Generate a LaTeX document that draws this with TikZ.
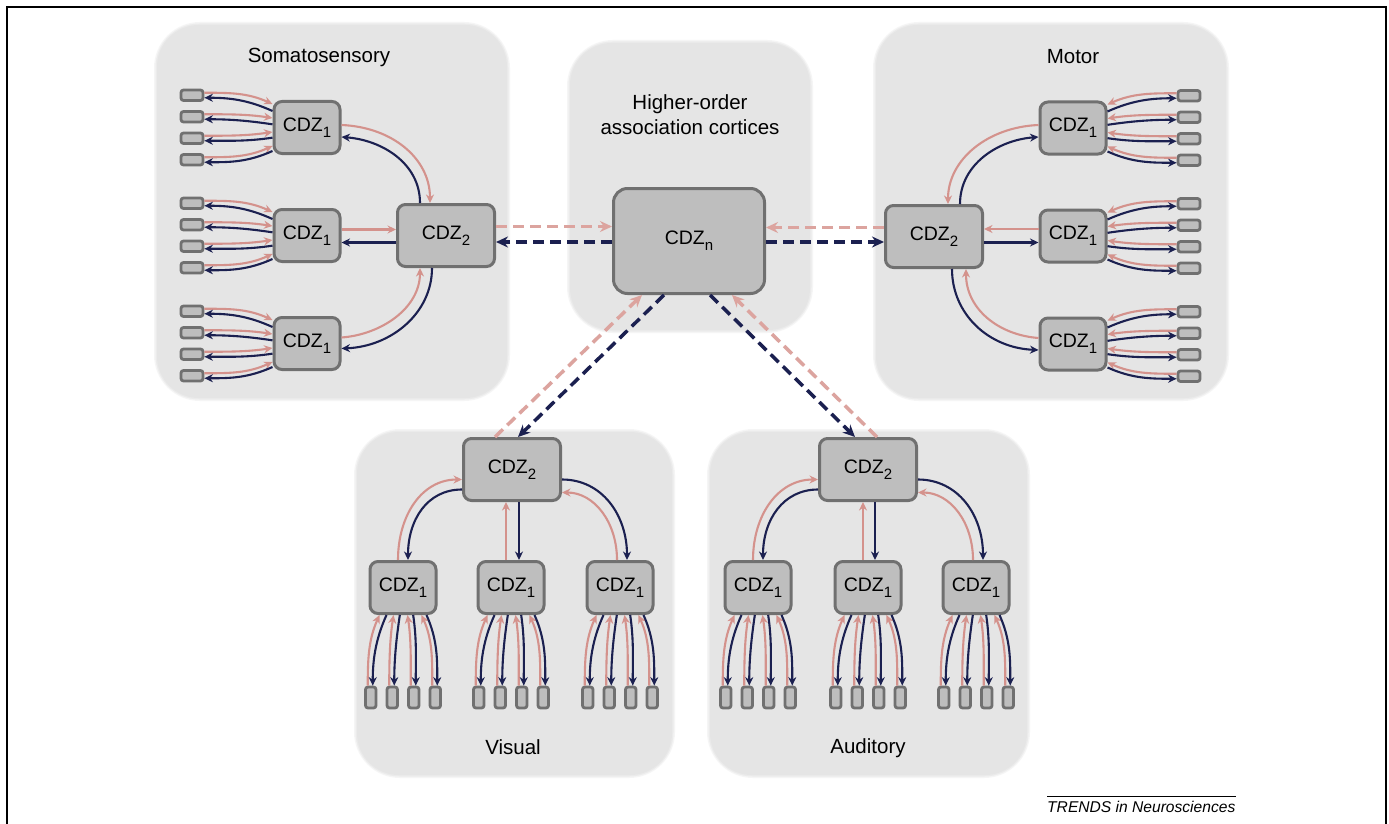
\documentclass[tikz,border=0pt]{standalone}
\usepackage{fontspec}
\setmainfont{Liberation Sans}
\usetikzlibrary{arrows.meta,calc}

\definecolor{panelgray}{RGB}{229,229,229}
\definecolor{boxfill}{RGB}{190,190,190}
\definecolor{boxline}{RGB}{112,112,112}
\definecolor{fwd}{RGB}{212,146,140}
\definecolor{fwdlight}{RGB}{220,164,159}
\definecolor{back}{RGB}{27,32,80}

\newcommand\cdzsub[1]{\raisebox{-6pt}{\fontsize{15}{15}\selectfont #1}}

\tikzset{
  cdz/.style={draw=boxline, fill=boxfill, line width=3pt, rounded corners=8pt,
    minimum width=66pt, minimum height=52pt, inner sep=0pt,
    font=\fontsize{19.5}{20}\selectfont},
  cdztwo/.style={cdz, minimum width=97pt, minimum height=62pt},
  cdzn/.style={cdz, minimum width=151pt, minimum height=105pt, rounded corners=14pt},
  leafh/.style={draw=boxline, fill=boxfill, line width=2.8pt, rounded corners=2.5pt,
    minimum width=22pt, minimum height=10.5pt, inner sep=0pt},
  leafv/.style={leafh, minimum width=10.5pt, minimum height=21pt},
  up/.style={draw=fwd, line width=2.1pt, -{Stealth[length=8.5pt,width=8pt]}},
  down/.style={draw=back, line width=2.1pt, -{Stealth[length=8.5pt,width=8pt]}},
  updash/.style={draw=fwdlight, line width=3.5pt, dash pattern=on 11pt off 6pt,
    -{Stealth[length=12pt,width=11pt]}},
  downdash/.style={draw=back, line width=3.5pt, dash pattern=on 11pt off 6pt,
    -{Stealth[length=12pt,width=11pt]}},
  region/.style={font=\fontsize{20.5}{25}\selectfont, align=center},
}

% soft-edged grey region
\newcommand\panel[4]{%
  \fill[panelgray, opacity=0.35, rounded corners=46pt] ({#1-3},{#2-3}) rectangle ({#3+3},{#4+3});
  \fill[panelgray, opacity=0.6, rounded corners=44pt] ({#1-1.5},{#2-1.5}) rectangle ({#3+1.5},{#4+1.5});
  \fill[panelgray, rounded corners=42pt] (#1,#2) rectangle (#3,#4);}

% four input units to the left of a CDZ1
\newcommand\fanleft[1]{%
  \foreach \i/\d in {1/-32.25,2/-10.75,3/10.75,4/32.25}{%
    \node[leafh] (#1b\i) at ($(#1)+(-115,\d)$) {};
    \draw[up] ($(#1b\i.east)+(0,-2.5)$) .. controls +(25,0) and +(-25,{0.35*\d}) .. ($(#1.west)+(0,{0.65*\d-2.5})$);
    \draw[down] ($(#1.west)+(0,{0.62*\d+3.5})$) .. controls +(-25,{0.35*\d}) and +(25,0) .. ($(#1b\i.east)+(0,2.5)$);
  }}
% four output units to the right of a CDZ1
\newcommand\fanright[1]{%
  \foreach \i/\d in {1/-32.25,2/-10.75,3/10.75,4/32.25}{%
    \node[leafh] (#1b\i) at ($(#1)+(116,\d)$) {};
    \draw[up] ($(#1b\i.west)+(0,-2.5)$) .. controls +(-25,0) and +(25,{0.35*\d}) .. ($(#1.east)+(0,{0.65*\d-2.5})$);
    \draw[down] ($(#1.east)+(0,{0.62*\d+3.5})$) .. controls +(25,{0.35*\d}) and +(-25,0) .. ($(#1b\i.west)+(0,2.5)$);
  }}
% four units below a CDZ1
\newcommand\fandown[1]{%
  \foreach \i/\d in {1/-32.25,2/-10.75,3/10.75,4/32.25}{%
    \node[leafv] (#1b\i) at ($(#1)+(\d,110)$) {};
    \draw[up] ($(#1b\i.north)+(-3,0)$) .. controls +(0,-25) and +({0.35*\d},25) .. ($(#1.south)+({0.65*\d-2.5},0)$);
    \draw[down] ($(#1.south)+({0.62*\d+3.5},0)$) .. controls +({0.35*\d},25) and +(0,-25) .. ($(#1b\i.north)+(2,0)$);
  }}

\begin{document}
\begin{tikzpicture}[x=1pt,y=-1pt]
\useasboundingbox (0,0) rectangle (1389,824);
\fill[white] (0,0) rectangle (1389,824);
\draw[line width=2pt] (6.5,824) -- (6.5,7.5) -- (1386,7.5) -- (1386,824);

% regions
\panel{157}{25}{507}{398}
\panel{570}{43}{810}{330}
\panel{876}{25}{1226}{398}
\panel{357}{432}{672}{775}
\panel{710}{432}{1027}{775}

\node[region] (lsoma) at (319,57) {Somatosensory};
\node[region] (lmotor) at (1073,57) {Motor};
\node[region] (lhigh) at (690,115) {Higher-order\\association cortices};
\node[region] (lvis) at (513,747) {Visual};
\node[region] (laud) at (868,748) {Auditory};

% convergence-divergence zones
\node[cdzn] (cn) at (689,241) {CDZ\cdzsub{n}};

\node[cdz] (sa) at (307,127.5) {CDZ\cdzsub{1}};
\node[cdz] (sb) at (307,235.5) {CDZ\cdzsub{1}};
\node[cdz] (sc) at (307,343.5) {CDZ\cdzsub{1}};
\node[cdztwo] (sz) at (446,235.5) {CDZ\cdzsub{2}};

\node[cdz] (ma) at (1073,128) {CDZ\cdzsub{1}};
\node[cdz] (mb) at (1073,236) {CDZ\cdzsub{1}};
\node[cdz] (mc) at (1073,344) {CDZ\cdzsub{1}};
\node[cdztwo] (mz) at (934,236.5) {CDZ\cdzsub{2}};

\node[cdztwo] (vz) at (512,469.5) {CDZ\cdzsub{2}};
\node[cdz] (va) at (403,587.5) {CDZ\cdzsub{1}};
\node[cdz] (vb) at (511,587.5) {CDZ\cdzsub{1}};
\node[cdz] (vc) at (620,587.5) {CDZ\cdzsub{1}};

\node[cdztwo] (az) at (868,469.5) {CDZ\cdzsub{2}};
\node[cdz] (aa) at (758,587.5) {CDZ\cdzsub{1}};
\node[cdz] (ab) at (868,587.5) {CDZ\cdzsub{1}};
\node[cdz] (ac) at (976,587.5) {CDZ\cdzsub{1}};

% input / output units
\fanleft{sa}\fanleft{sb}\fanleft{sc}
\fanright{ma}\fanright{mb}\fanright{mc}
\fandown{va}\fandown{vb}\fandown{vc}
\fandown{aa}\fandown{ab}\fandown{ac}

% somatosensory CDZ1 <-> CDZ2
\draw[up] ($(sa.east)+(0,-2.5)$) .. controls +(50,2) and +(0,-45) .. ($(sz.north)+(-16,0)$);
\draw[down] ($(sz.north)+(-26,0)$) .. controls +(0,-40) and +(40,3) .. ($(sa.east)+(0,9.5)$);
\draw[up] ($(sb.east)+(0,-6)$) coordinate (sbo) -- (sbo -| sz.west);
\draw[down] ($(sz.west)+(0,7)$) coordinate (szo) -- (szo -| sb.east);
\draw[up] ($(sc.east)+(0,-6)$) .. controls +(40,-3) and +(0,40) .. ($(sz.south)+(-26,0)$);
\draw[down] ($(sz.south)+(-14,0)$) .. controls +(0,45) and +(50,-2) .. ($(sc.east)+(0,5)$);

% motor CDZ1 <-> CDZ2
\draw[up] ($(ma.west)+(0,-3)$) .. controls +(-50,2) and +(0,-45) .. ($(mz.north)+(14,0)$);
\draw[down] ($(mz.north)+(26,0)$) .. controls +(0,-40) and +(-40,3) .. ($(ma.west)+(0,9)$);
\draw[up] ($(mb.west)+(0,-7)$) coordinate (mbo) -- (mbo -| mz.east);
\draw[down] ($(mz.east)+(0,6)$) coordinate (mzo) -- (mzo -| mb.west);
\draw[up] ($(mc.west)+(0,-6)$) .. controls +(-40,-3) and +(0,40) .. ($(mz.south)+(32,0)$);
\draw[down] ($(mz.south)+(18,0)$) .. controls +(0,45) and +(-50,-2) .. ($(mc.west)+(0,6)$);

% visual CDZ1 <-> CDZ2
\draw[up] ($(va.north)+(-5,0)$) .. controls +(0,-45) and +(-40,0) .. ($(vz.west)+(0,10)$);
\draw[down] ($(vz.west)+(0,20)$) .. controls +(-35,0) and +(0,-40) .. ($(va.north)+(5,0)$);
\draw[up] ($(vb.north)+(-5,0)$) coordinate (vbo) -- (vbo |- vz.south);
\draw[down] ($(vz.south)+(7,0)$) coordinate (vzo) -- (vzo |- vb.north);
\draw[down] ($(vz.east)+(0,10)$) .. controls +(40,0) and +(0,-45) .. ($(vc.north)+(7,0)$);
\draw[up] ($(vc.north)+(-3,0)$) .. controls +(0,-38) and +(32,0) .. ($(vz.east)+(0,23)$);

% auditory CDZ1 <-> CDZ2
\draw[up] ($(aa.north)+(-5,0)$) .. controls +(0,-45) and +(-40,0) .. ($(az.west)+(0,10)$);
\draw[down] ($(az.west)+(0,20)$) .. controls +(-35,0) and +(0,-40) .. ($(aa.north)+(5,0)$);
\draw[up] ($(ab.north)+(-5,0)$) coordinate (abo) -- (abo |- az.south);
\draw[down] ($(az.south)+(7,0)$) coordinate (azo) -- (azo |- ab.north);
\draw[down] ($(az.east)+(0,10)$) .. controls +(40,0) and +(0,-45) .. ($(ac.north)+(7,0)$);
\draw[up] ($(ac.north)+(-3,0)$) .. controls +(0,-38) and +(32,0) .. ($(az.east)+(0,23)$);

% CDZ2 <-> CDZn
\draw[updash] ($(sz.east)+(0,-9)$) coordinate (szd) -- (szd -| cn.west);
\draw[downdash] ($(cn.west)+(0,1)$) coordinate (cnw) -- (cnw -| sz.east);
\draw[updash] ($(mz.west)+(0,-9)$) coordinate (mzd) -- (mzd -| cn.east);
\draw[downdash] ($(cn.east)+(0,1)$) coordinate (cne) -- (cne -| mz.west);
\draw[updash] ($(vz.north)+(-17,0)$) -- ($(cn.south)+(-47,0)$);
\draw[downdash] ($(cn.south)+(-25,0)$) -- ($(vz.north)+(6,0)$);
\draw[downdash] ($(cn.south)+(21,0)$) -- ($(az.north)+(-13,0)$);
\draw[updash] ($(az.north)+(9,0)$) -- ($(cn.south)+(43,0)$);

% journal credit
\node[font=\fontsize{15.6}{16}\selectfont\itshape, anchor=base west, inner sep=0pt] (trends) at (1047,812) {TRENDS in Neurosciences};
\draw[line width=0.8pt] ([yshift=4.5pt]trends.north west) -- ([yshift=4.5pt]trends.north east);
\end{tikzpicture}
\end{document}
